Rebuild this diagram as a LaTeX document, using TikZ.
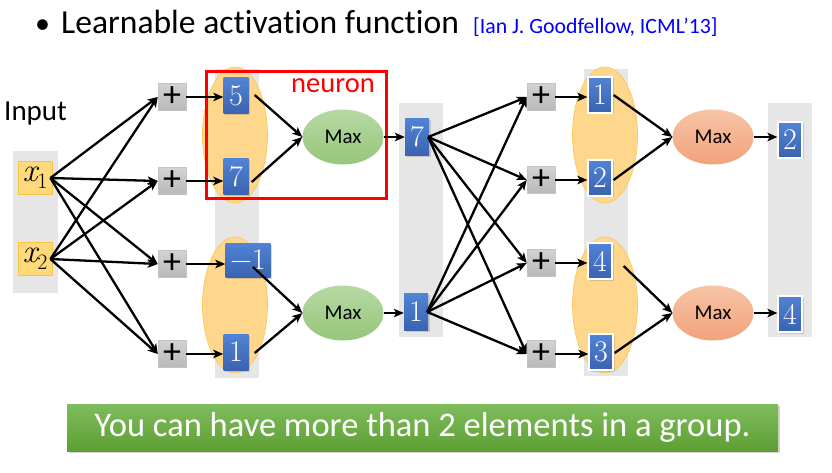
\documentclass[tikz,border=0pt]{standalone}
\usepackage{fontspec}
\setmainfont{Carlito}[Ligatures=NoCommon]
\newfontfamily\lmr{Latin Modern Roman}
\usetikzlibrary{arrows.meta,shapes.geometric,shadows,calc}
\definecolor{colgray}{HTML}{E6E6E6}
\definecolor{grpfill}{HTML}{FFD78C}
\definecolor{grpline}{HTML}{F9C74F}
\definecolor{bluetop}{HTML}{5283D6}
\definecolor{bluebot}{HTML}{3A63AF}
\definecolor{plustop}{HTML}{D2D2D2}
\definecolor{plusbot}{HTML}{B9B9B9}
\definecolor{plusline}{HTML}{C4C4C4}
\definecolor{inyellow}{HTML}{FFD97A}
\definecolor{inline}{HTML}{F6C342}
\definecolor{gtop}{HTML}{B6D9A3}
\definecolor{gbot}{HTML}{97C67B}
\definecolor{stop}{HTML}{F7C4A6}
\definecolor{sbot}{HTML}{F2A37B}
\definecolor{bantop}{HTML}{7EBC5D}
\definecolor{banbot}{HTML}{5E9F33}
\definecolor{citeblue}{HTML}{0000FF}
\newcommand{\xsub}[1]{{\fontsize{33}{33}\selectfont\lmr\itshape x}\raisebox{-7pt}{\fontsize{22}{22}\selectfont\lmr #1}}
\begin{document}
\begin{tikzpicture}[x=1pt,y=-1pt,
  col/.style={rectangle,fill=colgray,draw=none,inner sep=0pt},
  grp/.style={ellipse,fill=grpfill,draw=grpline,line width=0.6pt,minimum width=65pt,minimum height=136pt,inner sep=0pt},
  plusbox/.style={rectangle,draw=plusline,line width=0.5pt,top color=plustop,bottom color=plusbot,minimum width=28pt,minimum height=27pt,inner sep=0pt,text=black,font=\fontsize{36}{36}\selectfont},
  valbox/.style={rectangle,top color=bluetop,bottom color=bluebot,text=white,minimum width=25pt,minimum height=36pt,inner sep=1pt,font=\fontsize{30}{30}\selectfont\lmr,drop shadow={shadow xshift=1.5pt,shadow yshift=-1.5pt,opacity=0.3}},
  valboxw/.style={valbox,draw=white,line width=1.2pt,minimum width=24pt,minimum height=36pt},
  inbox/.style={rectangle,fill=inyellow,draw=inline,line width=0.8pt,minimum width=34pt,minimum height=33pt,inner sep=0pt},
  maxg/.style={ellipse,top color=gtop,bottom color=gbot,draw=none,minimum width=81pt,minimum height=55pt,inner sep=0pt,font=\fontsize{21}{21}\selectfont},
  maxs/.style={ellipse,top color=stop,bottom color=sbot,draw=none,minimum width=81pt,minimum height=55pt,inner sep=0pt,font=\fontsize{21}{21}\selectfont},
  arr/.style={-{Stealth[length=10pt,width=8.5pt,inset=2.5pt]},line width=2.3pt,black}]
\useasboundingbox (0,0) rectangle (832,473);
% title
\node[anchor=base,font=\fontsize{30}{30}\selectfont] (bullet) at (42.5,34) {•};
\node[anchor=base west,font=\fontsize{33.6}{33.6}\selectfont,inner sep=0pt] (title) at (61,34) {Learnable activation function};
\node[anchor=base west,text=citeblue,font=\fontsize{21.8}{21.8}\selectfont,inner sep=0pt] (cite) at (473,34) {[Ian J. Goodfellow, ICML’13]};
% gray columns
\node[col,minimum width=45pt,minimum height=142pt] (g0) at (35.5,222) {};
\node[col,minimum width=44pt,minimum height=309pt] (g1) at (237,223.5) {};
\node[col,minimum width=44pt,minimum height=234pt] (g2) at (421,220) {};
\node[col,minimum width=44pt,minimum height=307pt] (g3) at (606,222.5) {};
\node[col,minimum width=44pt,minimum height=234pt] (g4) at (790,220) {};
% input
\node[anchor=base west,font=\fontsize{29}{29}\selectfont,inner sep=0pt] (inlabel) at (4,121) {Input};
\node[inbox] (x1) at (35,178) {\xsub{1}};
\node[inbox] (x2) at (35,259) {\xsub{2}};
% first layer plus
\node[plusbox] (p1) at (172,97) {+};
\node[plusbox] (p2) at (172,181) {+};
\node[plusbox] (p3) at (172,264) {+};
\node[plusbox] (p4) at (172,354) {+};
% groups layer 1
\node[grp] (e1) at (235,135) {};
\node[grp] (e2) at (235,305) {};
\node[draw=red,line width=3.2pt,minimum width=180pt,minimum height=127pt,inner sep=0pt] (nbox) at (296.5,135) {};
\node[anchor=base,text=red,font=\fontsize{28.5}{28.5}\selectfont,inner sep=0pt] (neuron) at (333,93) {neuron};
\node[valbox] (a1) at (236,96) {5};
\node[valbox] (a2) at (236,177) {7};
\node[valbox,minimum width=45pt,minimum height=34pt] (a3) at (248,260) {−1};
\node[valbox] (a4) at (236,352) {1};
\node[maxg] (m1) at (343,137) {Max};
\node[maxg] (m2) at (343,313) {Max};
\node[valbox,minimum width=24pt,minimum height=37pt] (h1) at (417,137) {7};
\node[valbox,minimum width=24pt,minimum height=37pt] (h2) at (416,312) {1};
% second layer plus
\node[plusbox] (q1) at (541,97) {+};
\node[plusbox] (q2) at (541,180) {+};
\node[plusbox] (q3) at (541,263) {+};
\node[plusbox] (q4) at (541,354) {+};
\node[grp] (f1) at (605,135) {};
\node[grp] (f2) at (605,305) {};
\node[valboxw] (c1) at (600,95) {1};
\node[valboxw] (c2) at (600,178) {2};
\node[valboxw] (c3) at (600,261) {4};
\node[valboxw] (c4) at (601,352) {3};
\node[maxs] (n1) at (713,137) {Max};
\node[maxs] (n2) at (713,313) {Max};
\node[valboxw] (o1) at (790,140) {2};
\node[valboxw] (o2) at (790,314) {4};
% arrows layer 1
\foreach \s in {x1,x2}
  \foreach \t in {p1,p2,p3,p4}
    \draw[arr] ($(\s.east)+(-2,0)$) -- (\t.west);
\draw[arr] (p1.east) -- (p1.east -| a1.west);
\draw[arr] (p2.east) -- (p2.east -| a2.west);
\draw[arr] (p3.east) -- (p3.east -| a3.west);
\draw[arr] (p4.east) -- (p4.east -| a4.west);
\draw[arr] ($(a1.east)+(6,-1)$) -- (m1.west);
\draw[arr] ($(a2.east)+(3,5)$) -- (m1.west);
\draw[arr] ($(a3.center)+(5,7)$) -- (m2.west);
\draw[arr] ($(a4.east)+(6,1)$) -- (m2.west);
\draw[arr] (m1.east) -- (m1.east -| h1.west);
\draw[arr] (m2.east) -- (m2.east -| h2.west);
% arrows layer 2
\foreach \s in {h1,h2}
  \foreach \t in {q1,q2,q3,q4}
    \draw[arr] ($(\s.east)+(-1,0)$) -- (\t.west);
\draw[arr] (q1.east) -- (q1.east -| c1.west);
\draw[arr] (q2.east) -- (q2.east -| c2.west);
\draw[arr] (q3.east) -- (q3.east -| c3.west);
\draw[arr] (q4.east) -- (q4.east -| c4.west);
\draw[arr] ($(c1.east)+(1,0)$) -- (n1.west);
\draw[arr] ($(c2.east)+(1,2)$) -- (n1.west);
\draw[arr] ($(c3.east)+(11,5)$) -- (n2.west);
\draw[arr] ($(c4.east)+(1,1)$) -- (n2.west);
\draw[arr] (n1.east) -- (n1.east -| o1.west);
\draw[arr] (n2.east) -- (n2.east -| o2.west);
% banner
\node[rectangle,minimum width=711pt,minimum height=47pt,top color=bantop,bottom color=banbot,text=white,font=\fontsize{34.5}{34.5}\selectfont,drop shadow={shadow xshift=1.5pt,shadow yshift=-2pt,opacity=0.35}] (banner) at (422.5,427.5) {You can have more than 2 elements in a group.};
\end{tikzpicture}
\end{document}
